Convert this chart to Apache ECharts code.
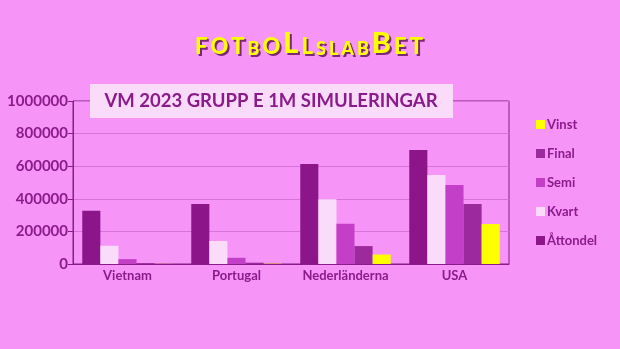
<!DOCTYPE html>
<html><head><meta charset="utf-8">
<script src="https://cdn.jsdelivr.net/npm/echarts@6/dist/echarts.min.js"></script>
<style>html,body{margin:0;padding:0;background:#f695f7;}#c{width:620px;height:349px;}</style>
</head><body><div id="c"></div>
<script>
const categories = ['Vietnam', 'Portugal', 'Nederländerna', 'USA'];
const attondel = [327000, 368000, 613000, 700000];
const kvart = [112000, 141000, 397000, 546000];
const semi = [30000, 38000, 247000, 485000];
const finalV = [5000, 8000, 110000, 368000];
const vinst = [800, 2000, 58000, 245000];
const titleText = 'VM 2023 GRUPP E 1M SIMULERINGAR';
const logoLetters = [['F','r'],['O','r'],['T','r'],['B','s'],['O','r'],['L','b'],['L','r'],['S','s'],['L','s'],['A','s'],['B','s'],['B','b'],['E','r'],['T','r']];

const purple = '#8b1a8b';
const chart = echarts.init(document.getElementById('c'), null, {renderer:'canvas'});
const logoStr = logoLetters.map(l => '{' + l[1] + '|' + l[0] + '}').join('');
function logoRich(color) {
  const base = {fill:color, color, fontFamily:'Lato', fontWeight:900, padding:[0,1.5,0,1.5], verticalAlign:'bottom', lineHeight:30};
  const mk = size => Object.assign({}, base, {fontSize:size});
  return {r:mk(22), s:mk(18), b:mk(29)};
}
const mkSeries = (name, data, color) => ({name, type:'bar', data, itemStyle:{color}, barGap:'0%', barCategoryGap:'17%'});
chart.setOption({
  backgroundColor:'#f695f7',
  animation:false,
  graphic:[{
    type:'text', x:311, y:60, style:{text:logoStr, rich:logoRich('#7a2a70'), align:'center', verticalAlign:'bottom'}
  },{
    type:'text', x:309, y:58, style:{text:logoStr, rich:logoRich('#ffff00'), align:'center', verticalAlign:'bottom'}
  },{
    type:'rect', shape:{x:90, y:84, width:363, height:34}, style:{fill:'#fadcfa'}, z:10
  },{
    type:'text', x:271, y:101, style:{text:titleText, fill:purple, font:'bold 18.5px Lato', align:'center', verticalAlign:'middle'}, z:11
  }],
  legend:{
    orient:'vertical', left:531, top:113, itemGap:16, itemWidth:9, itemHeight:9, icon:'rect',
    data:['Vinst','Final','Semi','Kvart','Åttondel'],
    textStyle:{color:purple, fontFamily:'Lato', fontWeight:'bold', fontSize:13, padding:[0,0,0,-3]}
  },
  grid:{left:73, right:111, top:101, bottom:85, show:true, borderColor:purple, borderWidth:1, containLabel:false},
  xAxis:{type:'category', data:categories,
    axisLine:{lineStyle:{color:purple}}, axisTick:{show:false},
    axisLabel:{interval:0, color:purple, fontFamily:'Lato', fontWeight:'bold', fontSize:13, margin:5}},
  yAxis:{type:'value', min:0, max:1000000, interval:200000,
    axisLine:{show:true, lineStyle:{color:purple}}, axisTick:{show:true, length:5, lineStyle:{color:purple}},
    splitLine:{lineStyle:{color:'#d873dc'}},
    axisLabel:{formatter: v => String(v), color:purple, fontFamily:'Lato', fontWeight:'bold', fontSize:15, margin:5}},
  series:[
    mkSeries('Åttondel', attondel, '#8b1589'),
    mkSeries('Kvart', kvart, '#fadcfa'),
    mkSeries('Semi', semi, '#c43fc8'),
    mkSeries('Final', finalV, '#9c2a9c'),
    mkSeries('Vinst', vinst, '#ffff00')
  ]
});
</script></body></html>
